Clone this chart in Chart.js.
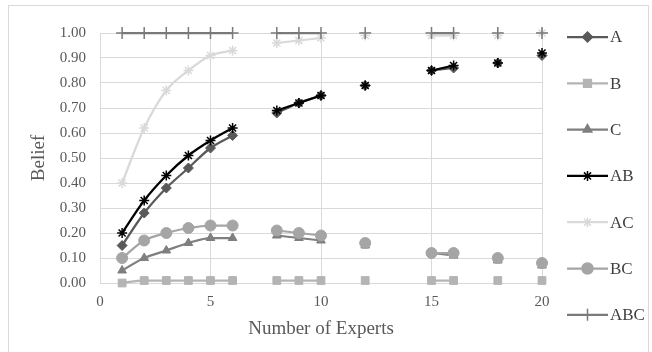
<!DOCTYPE html>
<html>
<head>
<meta charset="utf-8">
<script src="https://cdn.jsdelivr.net/npm/chart.js@4"></script>
<style>
  html, body { margin: 0; padding: 0; background: #fff; }
  #wrap { position: absolute; left: 0; top: 0; width: 652px; height: 352px; }
  #frame { position: absolute; left: 8px; top: 5px; width: 641px; height: 350px;
           border: 1px solid #d9d9d9; box-sizing: border-box; }
</style>
</head>
<body>
<div id="wrap">
  <div id="frame"></div>
  <canvas id="beliefChart" width="652" height="352"></canvas>
</div>
<script>
// number of experts (null rows = gaps in the lines)
const experts = [1, 2, 3, 4, 5, 6, 7, 8, 9, 10, 11, 12, 13, 14, 15, 16, 17, 18, 19, 20];

const beliefA   = [0.15, 0.28, 0.38, 0.46, 0.54, 0.59, null, 0.68, 0.72, 0.75, null, 0.79, null, null, 0.85, 0.86, null, 0.88, null, 0.91];
const beliefB   = [0.00, 0.01, 0.01, 0.01, 0.01, 0.01, null, 0.01, 0.01, 0.01, null, 0.01, null, null, 0.01, 0.01, null, 0.01, null, 0.01];
const beliefC   = [0.05, 0.10, 0.13, 0.16, 0.18, 0.18, null, 0.19, 0.18, 0.17, null, 0.15, null, null, 0.12, 0.11, null, 0.09, null, 0.07];
const beliefAB  = [0.20, 0.33, 0.43, 0.51, 0.57, 0.62, null, 0.69, 0.72, 0.75, null, 0.79, null, null, 0.85, 0.87, null, 0.88, null, 0.92];
const beliefAC  = [0.40, 0.62, 0.77, 0.85, 0.91, 0.93, null, 0.96, 0.97, 0.98, null, 0.99, null, null, 0.99, 0.99, null, 0.99, null, 1.00];
const beliefBC  = [0.10, 0.17, 0.20, 0.22, 0.23, 0.23, null, 0.21, 0.20, 0.19, null, 0.16, null, null, 0.12, 0.12, null, 0.10, null, 0.08];
const beliefABC = [1.00, 1.00, 1.00, 1.00, 1.00, 1.00, null, 1.00, 1.00, 1.00, null, 1.00, null, null, 1.00, 1.00, null, 1.00, null, 1.00];

const seriesNames = ['A', 'B', 'C', 'AB', 'AC', 'BC', 'ABC'];
const seriesData  = [beliefA, beliefB, beliefC, beliefAB, beliefAC, beliefBC, beliefABC];
const seriesColor = ['#595959', '#b4b4b4', '#7f7f7f', '#000000', '#d9d9d9', '#a5a5a5', '#7a7a7a'];
const seriesPoint = ['rectRot', 'rect', 'triangle', 'star', 'star', 'circle', 'cross'];
const seriesRadius = [5, 5.5, 5, 5, 5, 5.5, 6];

const FONT = '"Liberation Serif", "DejaVu Serif", serif';

const datasets = seriesNames.map((name, i) => ({
  label: name,
  data: experts.map((x, k) => ({ x, y: seriesData[i][k] })),
  order: seriesNames.length - i, // later series on top, like the original
  borderColor: seriesColor[i],
  backgroundColor: seriesColor[i],
  pointBackgroundColor: seriesColor[i],
  pointBorderColor: seriesColor[i],
  pointStyle: seriesPoint[i],
  pointRadius: seriesRadius[i],
  pointBorderWidth: seriesPoint[i] === 'star' || seriesPoint[i] === 'cross' ? 1.5 : 1,
  borderWidth: 2.25,
  tension: 0.4,
  cubicInterpolationMode: 'monotone',
  spanGaps: false,
  clip: false,
  fill: false
}));

// legend drawn as line + marker like the original
const sideLegend = {
  id: 'sideLegend',
  afterDraw(chart) {
    const c = chart.ctx;
    const x0 = 567, x1 = 608, top = 37, step = 46.3;
    c.save();
    seriesNames.forEach((name, i) => {
      const y = top + i * step;
      c.strokeStyle = seriesColor[i];
      c.fillStyle = seriesColor[i];
      c.lineWidth = 2.25;
      c.beginPath();
      c.moveTo(x0, y);
      c.lineTo(x1, y);
      c.stroke();
      c.lineWidth = 1.5;
      Chart.helpers.drawPoint(c, { pointStyle: seriesPoint[i], radius: seriesRadius[i], rotation: 0, borderWidth: 1.5 }, (x0 + x1) / 2, y);
      c.fillStyle = '#404040';
      c.font = '17px ' + FONT;
      c.textAlign = 'left';
      c.textBaseline = 'middle';
      c.fillText(name, x1 + 2, y + 1);
    });
    c.restore();
  }
};

const ctx = document.getElementById('beliefChart').getContext('2d');
new Chart(ctx, {
  type: 'line',
  data: { datasets },
  options: {
    responsive: false,
    animation: false,
    layout: { padding: { left: 24, top: 33, right: 110, bottom: 8 } },
    plugins: { legend: { display: false }, tooltip: { enabled: false } },
    scales: {
      x: {
        type: 'linear',
        min: 0, max: 20,
        ticks: { stepSize: 5, color: '#595959', font: { family: FONT, size: 15 }, padding: 10 },
        grid: { color: '#d9d9d9', lineWidth: 1, drawTicks: false },
        border: { display: false },
        title: { display: true, text: 'Number of Experts', color: '#595959', font: { family: FONT, size: 19 }, padding: { top: 4 } },
        afterFit(scale) { scale.height = 61; }
      },
      y: {
        min: 0, max: 1,
        ticks: { stepSize: 0.1, color: '#595959', font: { family: FONT, size: 15 }, padding: 14,
                 callback: v => v.toFixed(2) },
        grid: { color: '#d9d9d9', lineWidth: 1, drawTicks: false },
        border: { display: false },
        title: { display: true, text: 'Belief', color: '#595959', font: { family: FONT, size: 19 }, padding: { bottom: 2 } },
        afterFit(scale) { scale.width = 76; }
      }
    }
  },
  plugins: [sideLegend]
});
</script>
</body>
</html>
